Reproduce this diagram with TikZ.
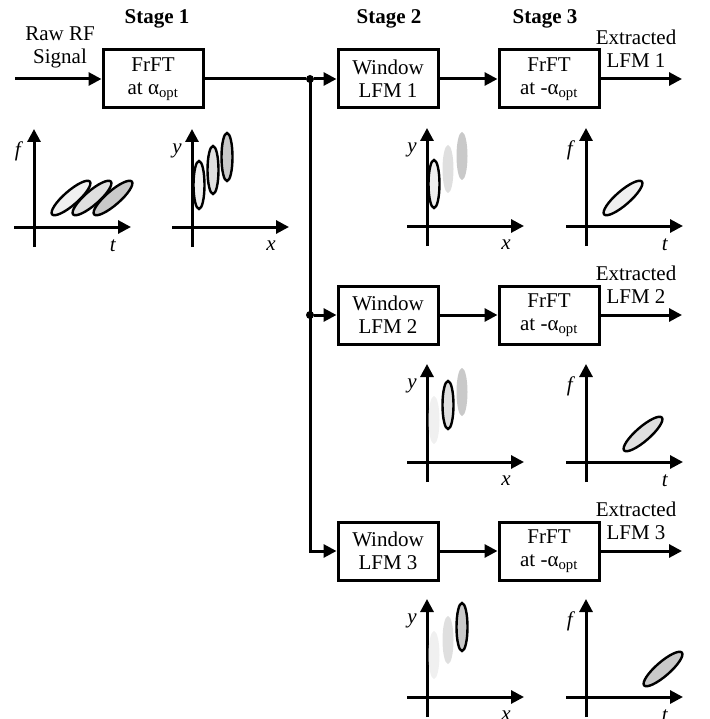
\documentclass[tikz,border=0pt]{standalone}
\usepackage{fontspec}
\setmainfont{Liberation Serif}
\usetikzlibrary{positioning,arrows.meta,calc}
\tikzset{
  node distance=58pt,
  every node/.style={font=\fontsize{21}{23}\selectfont, align=center},
  block/.style={
    draw, line width=3pt,
    minimum height=58pt, minimum width=100pt, inner sep=0pt
  },
  arrow/.style={-{Triangle[length=13pt,width=13pt]}, line width=3pt},
  stagelabel/.style={font=\fontsize{21}{23}\selectfont\bfseries},
  junction/.style={circle, fill, inner sep=0pt, minimum size=8pt},
  blob/.style={draw, line width=2.4pt},
  pics/axes/.style 2 args={code={
    \draw[arrow] (0,-20) -- (0,98);
    \draw[arrow] (-20,0) -- (97,0);
    \node (vlab) at (-15,76) {\textit{#1}};
    \node (hlab) at (79,-19) {\textit{#2}};
  }}
}

\begin{document}
\begin{tikzpicture}[x=1pt, y=1pt]
\useasboundingbox (0,0) rectangle (709,-719);

%% ===========================================================================
%% Stage 1: FrFT of the raw signal
%% ===========================================================================
\node[stagelabel] (stage1) at (157,-19) {Stage 1};
\node[block] (frft0) at (153,-79) {FrFT\\at α\textsubscript{opt}};
\node (rawrf) at (60,-47) {Raw RF\\Signal};
\coordinate (rfin) at (15,-79);
\draw[arrow] (rfin) -- (frft0);

% time-frequency plane
\begin{scope}[shift={(34,-227)}]
  \pic (s1ft) {axes={f}{t}};
  \draw[blob, fill=gray!12] (37,29) ellipse [x radius=25, y radius=7, rotate=41];
  \draw[blob, fill=gray!25] (58,29) ellipse [x radius=25, y radius=7, rotate=41];
  \draw[blob, fill=gray!42] (79,29) ellipse [x radius=25, y radius=7, rotate=41];
\end{scope}

% rotated plane
\begin{scope}[shift={(192,-227)}]
  \pic (s1yx) {axes={y}{x}};
  \draw[blob, fill=gray!12] (7,42) ellipse [x radius=5.5, y radius=24];
  \draw[blob, fill=gray!25] (21,57) ellipse [x radius=5.5, y radius=24];
  \draw[blob, fill=gray!42] (35,70) ellipse [x radius=5.5, y radius=24];
\end{scope}

%% ===========================================================================
%% Stages 2 and 3: one branch per LFM
%% ===========================================================================
\node[stagelabel] (stage2) at (389,-19) {Stage 2};
\node[stagelabel] (stage3) at (545,-19) {Stage 3};

% branch 1
\node[block] (win1)  at (388,-79)      {Window\\LFM 1};
\node[block, right=of win1] (frft1)    {FrFT\\at -α\textsubscript{opt}};
\node (ext1) at (636,-49) {Extracted\\LFM 1};
\coordinate (out1) at (682,-79);

% branch 2
\node[block] (win2)  at (388,-315)     {Window\\LFM 2};
\node[block, right=of win2] (frft2)    {FrFT\\at -α\textsubscript{opt}};
\node (ext2) at (636,-285) {Extracted\\LFM 2};
\coordinate (out2) at (682,-315);

% branch 3
\node[block] (win3)  at (388,-551)     {Window\\LFM 3};
\node[block, right=of win3] (frft3)    {FrFT\\at -α\textsubscript{opt}};
\node (ext3) at (636,-521) {Extracted\\LFM 3};
\coordinate (out3) at (682,-551);

% splitting the stage-1 output
\node[junction] (split1) at (310,-79) {};
\node[junction] (split2) at (split1 |- win2.west) {};
\draw[line width=3pt] (frft0) -- (split1);
\draw[arrow] (split1) -- (win1);
\draw[arrow] (split2) -- (win2);
\draw[arrow] (split1.center) |- (win3.west);

\draw[arrow] (win1) -- (frft1);
\draw[arrow] (win2) -- (frft2);
\draw[arrow] (win3) -- (frft3);
\draw[arrow] (frft1) -- (out1);
\draw[arrow] (frft2) -- (out2);
\draw[arrow] (frft3) -- (out3);

% plots below branch 1
\begin{scope}[shift={(427,-226)}]
  \pic (b1yx) {axes={y}{x}};
  \fill[gray!12] (7,42) ellipse [x radius=5.5, y radius=24];
  \fill[gray!25] (21,57) ellipse [x radius=5.5, y radius=24];
  \fill[gray!42] (35,70) ellipse [x radius=5.5, y radius=24];
  \draw[blob, fill=gray!12] (7,42) ellipse [x radius=5.5, y radius=24];
\end{scope}
\begin{scope}[shift={(586,-226)}]
  \pic (b1ft) {axes={f}{t}};
  \draw[blob, fill=gray!12] (37,28) ellipse [x radius=25, y radius=7, rotate=41];
\end{scope}

% plots below branch 2
\begin{scope}[shift={(427,-462)}]
  \pic (b2yx) {axes={y}{x}};
  \fill[gray!12] (7,42) ellipse [x radius=5.5, y radius=24];
  \fill[gray!25] (21,57) ellipse [x radius=5.5, y radius=24];
  \fill[gray!42] (35,70) ellipse [x radius=5.5, y radius=24];
  \draw[blob, fill=gray!25] (21,57) ellipse [x radius=5.5, y radius=24];
\end{scope}
\begin{scope}[shift={(586,-462)}]
  \pic (b2ft) {axes={f}{t}};
  \draw[blob, fill=gray!25] (57,28) ellipse [x radius=25, y radius=7, rotate=41];
\end{scope}

% plots below branch 3
\begin{scope}[shift={(427,-697)}]
  \pic (b3yx) {axes={y}{x}};
  \fill[gray!12] (7,42) ellipse [x radius=5.5, y radius=24];
  \fill[gray!25] (21,57) ellipse [x radius=5.5, y radius=24];
  \fill[gray!42] (35,70) ellipse [x radius=5.5, y radius=24];
  \draw[blob, fill=gray!42] (35,70) ellipse [x radius=5.5, y radius=24];
\end{scope}
\begin{scope}[shift={(586,-697)}]
  \pic (b3ft) {axes={f}{t}};
  \draw[blob, fill=gray!42] (77,28) ellipse [x radius=25, y radius=7, rotate=41];
\end{scope}

\end{tikzpicture}
\end{document}
